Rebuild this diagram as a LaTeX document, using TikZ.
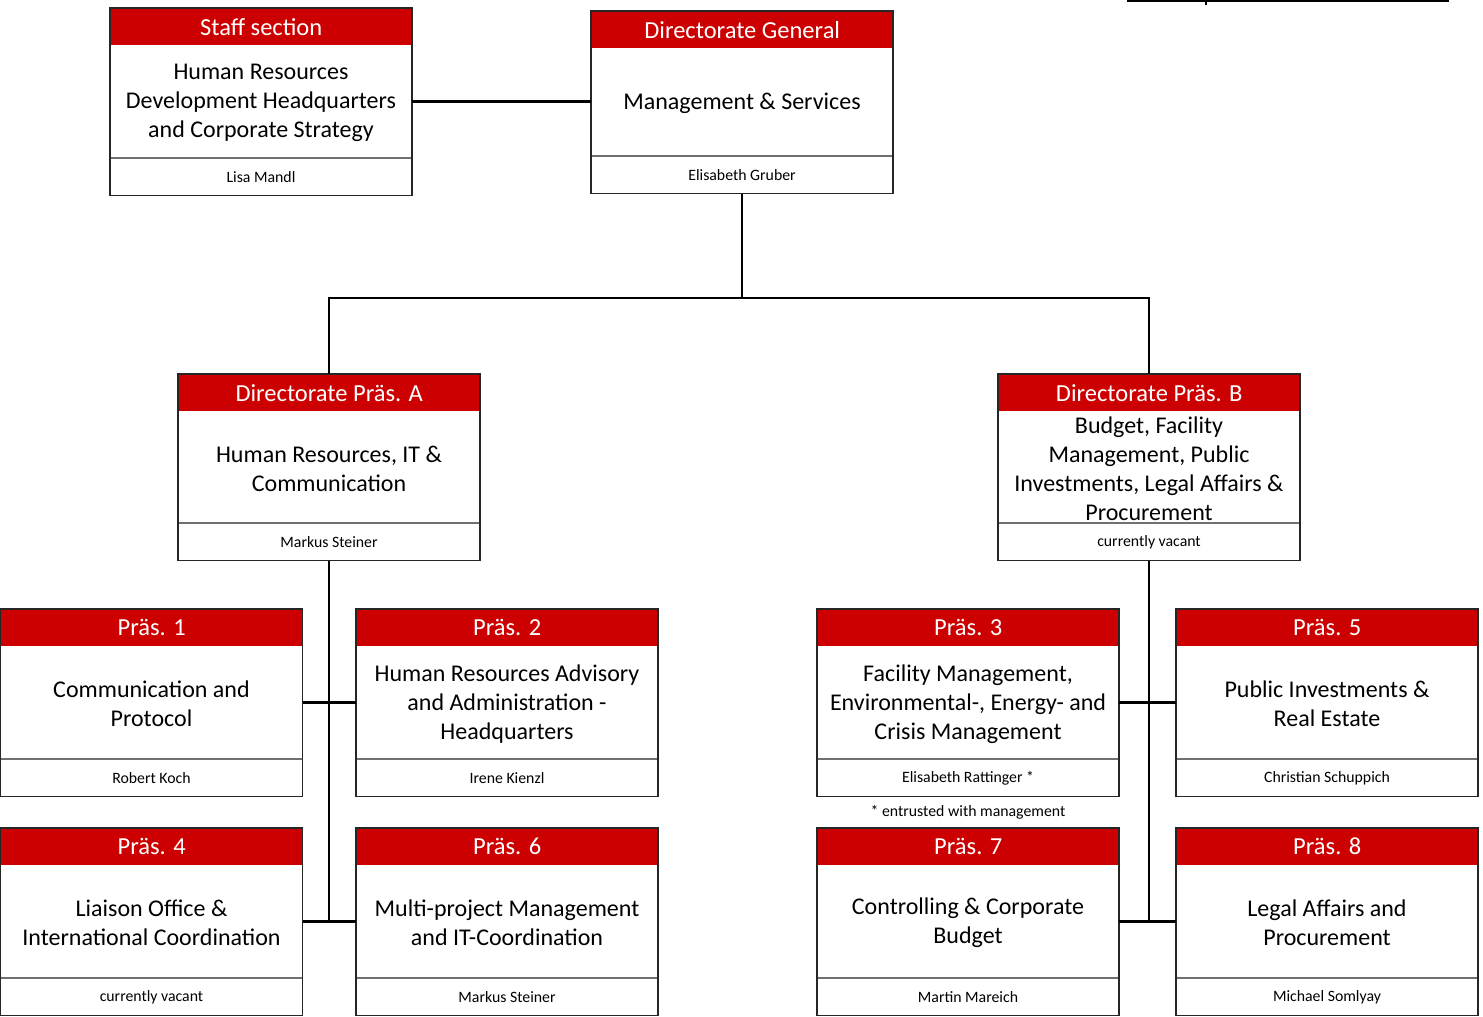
\documentclass[tikz,border=0pt]{standalone}
\usepackage{fontspec}
\setmainfont{Carlito}
\definecolor{prared}{HTML}{CC0000}
\definecolor{sepgray}{HTML}{707070}
\tikzset{
  hdrbox/.style={fill=prared, draw=none, minimum width=302pt, minimum height=37pt, inner sep=0pt, anchor=north west, text=white, font=\fontsize{24.5}{28}\selectfont},
  bodytxt/.style={align=center, inner sep=0pt, font=\fontsize{24}{29}\selectfont},
  nametxt/.style={inner sep=0pt, font=\fontsize{15.8}{18}\selectfont},
  frame/.style={draw=black!85, line width=1.3pt},
  sepline/.style={draw=sepgray, line width=1.2pt},
  conn/.style={draw=black, line width=2.2pt},
}
% #1 name, #2 x, #3 y, #4 header, #5 body, #6 person, #7 body height
\newcommand\orgbox[7]{%
  \begin{scope}[shift={(#2,#3)}]
    \pgfmathsetmacro\bh{37+#7}%
    \pgfmathsetmacro\bc{37+#7/2}%
    \pgfmathsetmacro\tc{38.5+#7/2}%
    \pgfmathsetmacro\tot{37+#7+37.5}%
    \pgfmathsetmacro\pc{37+#7+19.5}%
    \node[hdrbox] (#1h) at (0,0) {#4};
    \node[bodytxt] (#1) at (151,\tc) {#5};
    \node[nametxt] (#1p) at (151,\pc) {#6};
    \draw[sepline] (0,\bh) -- (302,\bh);
    \draw[frame] (0,0) rectangle (302,\tot);
    \coordinate (#1-n) at (151,0);
    \coordinate (#1-s) at (151,\tot);
    \coordinate (#1-w) at (0,\bc);
    \coordinate (#1-e) at (302,\bc);
  \end{scope}}
\begin{document}
\begin{tikzpicture}[x=1pt,y=-1pt]
\useasboundingbox (0,0) rectangle (1483,1017);
\fill[white] (0,0) rectangle (1483,1017);
% boxes
\orgbox{staff}{110}{8}{Staff section}{Human Resources\\Development Headquarters\\and Corporate Strategy}{Lisa Mandl}{113}
\orgbox{dg}{591}{11}{Directorate General}{Management \& Services}{Elisabeth Gruber}{108}
\orgbox{pa}{178}{374}{Directorate Präs. A}{Human Resources, IT \&\\Communication}{Markus Steiner}{112}
\orgbox{pb}{998}{374}{Directorate Präs. B}{Budget, Facility\\Management, Public\\Investments, Legal Affairs \&\\Procurement}{currently vacant}{112}
\orgbox{p1}{0.5}{609}{Präs. 1}{Communication and\\Protocol}{Robert Koch}{113}
\orgbox{p2}{356}{609}{Präs. 2}{Human Resources Advisory\\and Administration -\\Headquarters}{Irene Kienzl}{113}
\orgbox{p3}{817}{609}{Präs. 3}{Facility Management,\\Environmental-, Energy- and\\Crisis Management}{Elisabeth Rattinger *}{113}
\orgbox{p5}{1176}{609}{Präs. 5}{Public Investments \&\\Real Estate}{Christian Schuppich}{113}
\orgbox{p4}{0.5}{828}{Präs. 4}{Liaison Office \&\\International Coordination}{currently vacant}{113}
\orgbox{p6}{356}{828}{Präs. 6}{Multi-project Management\\and IT-Coordination}{Markus Steiner}{113}
\orgbox{p7}{817}{828}{Präs. 7}{Controlling \& Corporate\\Budget}{Martin Mareich}{113}
\orgbox{p8}{1176}{828}{Präs. 8}{Legal Affairs and\\Procurement}{Michael Somlyay}{113}
% footnote
\node[nametxt] (fn) at (968,812.5) {* entrusted with management};
% connectors
\draw[conn] (staff-e) -- (dg-w |- staff-e);
\coordinate (jA) at (741,298);
\draw[conn] (dg-s) -- (dg-s |- jA);
\draw[conn] (pa-n) |- (jA) -| (pb-n);
\coordinate (aEnd) at (329,922);
\coordinate (bEnd) at (1149,922);
\draw[conn] (pa-s) -- (aEnd);
\draw[conn] (pb-s) -- (bEnd);
\draw[conn] (p1-e) -- (p2-w);
\draw[conn] (p4-e) -- (p6-w);
\draw[conn] (p3-e) -- (p5-w);
\draw[conn] (p7-e) -- (p8-w);
% cut-off element at top right
\coordinate (tl) at (1127,1);
\coordinate (tr) at (1449,1);
\coordinate (tk) at (1206,5);
\draw[conn] (tl) -- (tr);
\draw[conn] (tk) -- (tk |- tl);
\end{tikzpicture}
\end{document}
